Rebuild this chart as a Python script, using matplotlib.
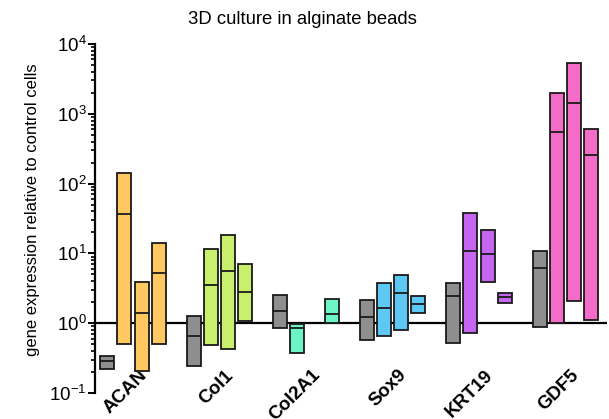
import numpy as np
import matplotlib.pyplot as plt

plt.rcParams['font.family'] = ['Liberation Sans', 'DejaVu Sans']

genes = ["ACAN", "Col1", "Col2A1", "Sox9", "KRT19", "GDF5"]
colors = ["#ffc860", "#c8f06c", "#6cf4c6", "#5ec8f4", "#c466ef", "#f46cc8"]
ctrl_color = "#8e8e8e"

# per gene: [control, condition 1, condition 2, condition 3]  (nan = not measured)
low = [[0.22, 0.50, 0.21, 0.50],
       [0.24, 0.48, 0.42, 1.07],
       [0.85, 0.37, np.nan, 1.00],
       [0.57, 0.65, 0.79, 1.39],
       [0.52, 0.72, 3.87, 1.93],
       [0.88, 1.00, 2.07, 1.10]]
median = [[0.285, 36.5, 1.39, 5.2],
          [0.65, 3.5, 5.56, 2.78],
          [1.49, 0.85, np.nan, 1.35],
          [1.22, 1.64, 2.69, 1.87],
          [2.44, 10.7, 9.7, 2.36],
          [6.14, 545, 1419, 256]]
high = [[0.336, 141, 3.87, 14.0],
        [1.26, 11.5, 18.2, 7.0],
        [2.52, 0.97, np.nan, 2.21],
        [2.14, 3.74, 4.87, 2.44],
        [3.74, 37.7, 21.5, 2.69],
        [10.7, 1973, 5310, 602]]

fig = plt.figure(figsize=(6.09, 4.19), dpi=100)
ax = fig.add_axes([95 / 609, 1 - 393 / 419, 512 / 609, 349 / 419])

width = 0.81
for i, gene in enumerate(genes):
    for j in range(4):
        lo, md, hi = low[i][j], median[i][j], high[i][j]
        if np.isnan(lo):
            continue
        x = i * 5 + j
        c = ctrl_color if j == 0 else colors[i]
        ax.bar(x, hi - lo, bottom=lo, width=width, color=c,
               edgecolor="#1a1a1a", linewidth=1.3, zorder=3)
        ax.hlines(md, x - width / 2, x + width / 2, color="#1a1a1a",
                  linewidth=1.3, zorder=4)

ax.axhline(1, color="black", linewidth=1.6, zorder=2)

ax.set_yscale("log")
ax.set_ylim(0.1, 1e4)
ax.set_xlim(-0.7, 28.9)

for s in ["top", "right", "bottom"]:
    ax.spines[s].set_visible(False)
ax.spines["left"].set_linewidth(1.6)

ax.tick_params(axis="y", which="major", length=5, width=1.4, labelsize=13.5, pad=1)
ax.tick_params(axis="y", which="minor", length=3, width=1.2)

ax.set_xticks([i * 5 + 1.8 for i in range(len(genes))])
ax.set_xticklabels(genes, rotation=45, ha="right", rotation_mode="anchor",
                   fontsize=13.5, fontweight="bold")
ax.tick_params(axis="x", length=0, pad=-19)

ax.set_ylabel("gene expression relative to control cells", fontsize=12)
ax.yaxis.set_label_coords(-0.107, 0.525)

fig.text(302 / 609, 1 - 20 / 419, "3D culture in alginate beads",
         ha="center", va="center", fontsize=13.3)

fig.savefig("out.png", dpi=100)
